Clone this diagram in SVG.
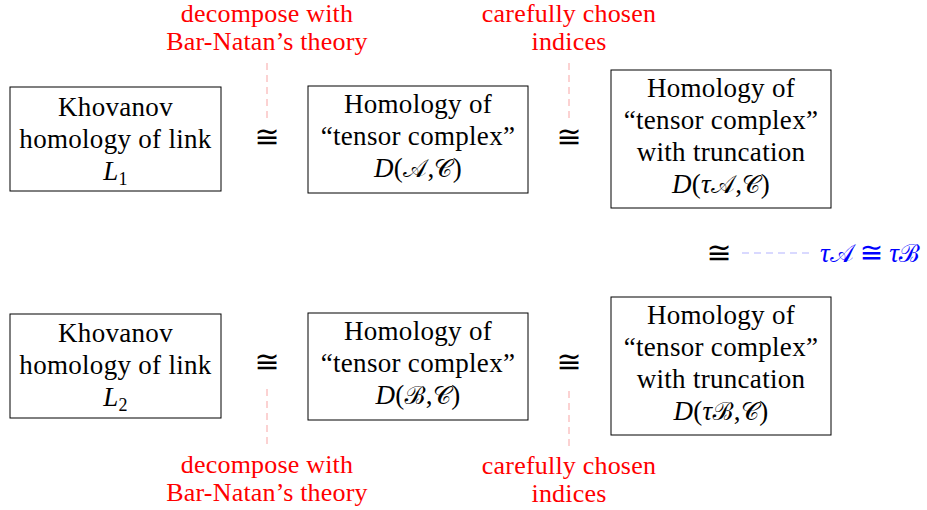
<svg xmlns="http://www.w3.org/2000/svg" width="927" height="510" viewBox="0 0 927 510">
<style>
.box{fill:#fff;stroke:#000;stroke-width:1}
.t{font-family:"Liberation Serif","DejaVu Serif",serif;font-size:27px;letter-spacing:0.3px;fill:#000;text-anchor:middle}
.r{font-family:"Liberation Serif","DejaVu Serif",serif;font-size:26px;letter-spacing:0.2px;fill:#ff0000;text-anchor:middle}
.i{font-style:italic}
.cal{font-family:"DejaVu Serif","Noto Sans",serif;font-style:normal;font-size:25px}
.iso{font-family:"DejaVu Sans",sans-serif;font-size:30px;text-anchor:middle;fill:#000}
.isb{font-family:"DejaVu Sans",sans-serif;font-size:28px}
.dr{stroke:#f8a5a5;stroke-width:1;stroke-dasharray:7,5;fill:none}
.db{stroke:#b3b3ff;stroke-width:1;stroke-dasharray:7,5;fill:none}
</style>
<rect width="927" height="510" fill="#fff"/>
<g id="connectors">
<line class="dr" x1="267" y1="63" x2="267" y2="121"/>
<line class="dr" x1="569" y1="63" x2="569" y2="121"/>
<line class="dr" x1="267" y1="389" x2="267" y2="446"/>
<line class="dr" x1="569" y1="391" x2="569" y2="448"/>
<line class="db" x1="742" y1="253" x2="812" y2="253"/>
</g>
<g id="k1"><rect class="box" x="10" y="87" width="211" height="104"/>
<text class="t" x="115.5" y="116">Khovanov</text>
<text class="t" x="115.5" y="148">homology of link</text>
<text class="t" x="115.5" y="180"><tspan class="i">L</tspan><tspan font-size="18" dy="5">1</tspan></text></g>
<g id="d1"><rect class="box" x="308" y="86" width="220" height="107"/>
<text class="t" x="418" y="113">Homology of</text>
<text class="t" x="418" y="145">“tensor complex”</text>
<text class="t" x="418" y="177"><tspan class="i">D</tspan>(<tspan class="cal">𝒜</tspan>,<tspan class="cal">𝒞</tspan>)</text></g>
<g id="t1"><rect class="box" x="611" y="70" width="220" height="138"/>
<text class="t" x="721" y="97">Homology of</text>
<text class="t" x="721" y="129">“tensor complex”</text>
<text class="t" x="721" y="161">with truncation</text>
<text class="t" x="721" y="193"><tspan class="i">D</tspan>(<tspan class="i">τ</tspan><tspan class="cal">𝒜</tspan>,<tspan class="cal">𝒞</tspan>)</text></g>
<g id="k2"><rect class="box" x="10" y="314" width="211" height="104"/>
<text class="t" x="115.5" y="342">Khovanov</text>
<text class="t" x="115.5" y="374">homology of link</text>
<text class="t" x="115.5" y="406"><tspan class="i">L</tspan><tspan font-size="18" dy="5">2</tspan></text></g>
<g id="d2"><rect class="box" x="308" y="313" width="220" height="107"/>
<text class="t" x="418" y="340">Homology of</text>
<text class="t" x="418" y="372">“tensor complex”</text>
<text class="t" x="418" y="404"><tspan class="i">D</tspan>(<tspan class="cal">ℬ</tspan>,<tspan class="cal">𝒞</tspan>)</text></g>
<g id="t2"><rect class="box" x="611" y="297" width="220" height="138"/>
<text class="t" x="721" y="324">Homology of</text>
<text class="t" x="721" y="356">“tensor complex”</text>
<text class="t" x="721" y="388">with truncation</text>
<text class="t" x="721" y="420"><tspan class="i">D</tspan>(<tspan class="i">τ</tspan><tspan class="cal">ℬ</tspan>,<tspan class="cal">𝒞</tspan>)</text></g>
<g id="iso">
<text class="iso" x="267" y="147">≅</text>
<text class="iso" x="569" y="147">≅</text>
<text class="iso" x="267" y="372">≅</text>
<text class="iso" x="569" y="372">≅</text>
<text class="iso" x="719" y="263">≅</text>
</g>
<g id="lab1"><text class="r" x="267" y="22">decompose with</text><text class="r" x="267" y="50">Bar-Natan’s theory</text></g>
<g id="lab2"><text class="r" x="569" y="22">carefully chosen</text><text class="r" x="569" y="50">indices</text></g>
<g id="lab3"><text class="r" x="267" y="473">decompose with</text><text class="r" x="267" y="501">Bar-Natan’s theory</text></g>
<g id="lab4"><text class="r" x="569" y="474">carefully chosen</text><text class="r" x="569" y="502">indices</text></g>
<g id="tau"><text x="820" y="262" font-family="Liberation Serif,serif" font-size="27" fill="#0000ff"><tspan class="i">τ</tspan><tspan class="cal">𝒜</tspan><tspan class="isb" dx="6">≅</tspan><tspan class="i" dx="6">τ</tspan><tspan class="cal">ℬ</tspan></text></g>
</svg>
